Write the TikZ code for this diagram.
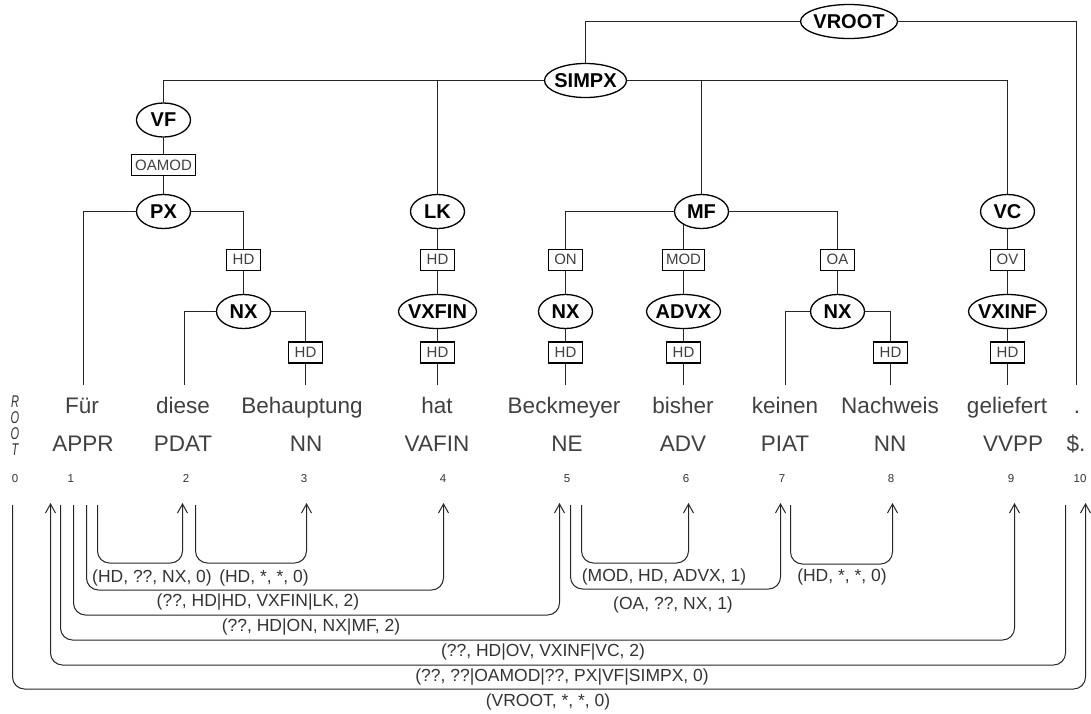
\documentclass[tikz,border=0pt]{standalone}
\usepackage{fontspec}
\setmainfont{Liberation Sans}
\usetikzlibrary{shapes.geometric,arrows.meta,backgrounds}
\tikzset{
  cat/.style={draw, ellipse, line width=1.3pt, fill=white, inner sep=0pt,
    minimum height=34pt, minimum width=#1, font=\fontsize{20}{20}\selectfont\bfseries},
  cat/.default=54pt,
  fn/.style={draw, rectangle, line width=1.1pt, fill=white, inner xsep=3.5pt, inner ysep=0pt,
    minimum width=34pt, minimum height=21pt, font=\fontsize{15}{15}\selectfont, text=black!75},
  word/.style={anchor=base, font=\fontsize{22.5}{22.5}\selectfont, text=black!75, inner sep=0pt},
  idx/.style={anchor=base, font=\fontsize{11.5}{11.5}\selectfont, text=black!80, inner sep=0pt},
  rootl/.style={anchor=base, font=\fontsize{17}{17}\selectfont\itshape, text=black!80, inner sep=0pt},
  edge/.style={line width=1pt, black!85},
  dep/.style={line width=1pt, black!85, rounded corners=12pt, -{Straight Barb[length=9pt,width=10pt]}},
  lab/.style={font=\fontsize{17.5}{17.5}\selectfont, text=black!80, inner sep=0pt},
}
\begin{document}
\begin{tikzpicture}[x=1pt,y=-1pt]
\useasboundingbox (0,0) rectangle (1091,713);
% ---------- tree nodes ----------
\node[cat=97pt] (VROOT) at (849,21.5) {\makebox[0pt]{VROOT}};
\node[cat=82pt] (SIMPX) at (585.5,80.5) {\makebox[0pt]{SIMPX}};
\node[cat] (VF) at (163.5,120) {\makebox[0pt]{VF}};
\node[fn] (OAMOD) at (163.5,165) {OAMOD};
\node[cat] (PX) at (163.5,211.5) {\makebox[0pt]{PX}};
\node[fn] (HDa) at (243.5,259.7) {HD};
\node[cat] (NXa) at (243.5,311.5) {\makebox[0pt]{NX}};
\node[fn] (HDb) at (305.5,352.5) {HD};
\node[cat] (LK) at (437.5,211.5) {\makebox[0pt]{LK}};
\node[fn] (HDc) at (437.5,259.7) {HD};
\node[cat=78pt] (VXFIN) at (437.5,311.5) {\makebox[0pt]{VXFIN}};
\node[fn] (HDd) at (437.5,352.5) {HD};
\node[cat] (MF) at (701.5,211.5) {\makebox[0pt]{MF}};
\node[fn] (ON) at (565.5,259.7) {ON};
\node[cat] (NXb) at (565.5,311.5) {\makebox[0pt]{NX}};
\node[fn] (HDe) at (565.5,352.5) {HD};
\node[fn] (MOD) at (683.5,259.7) {MOD};
\node[cat=74pt] (ADVX) at (683.5,311.5) {\makebox[0pt]{ADVX}};
\node[fn] (HDf) at (683.5,352.5) {HD};
\node[fn] (OA) at (837.5,259.7) {OA};
\node[cat] (NXc) at (837.5,311.5) {\makebox[0pt]{NX}};
\node[fn] (HDg) at (890.5,352.5) {HD};
\node[cat] (VC) at (1007.5,211.5) {\makebox[0pt]{VC}};
\node[fn] (OV) at (1007.5,259.7) {OV};
\node[cat=78pt] (VXINF) at (1007.5,311.5) {\makebox[0pt]{VXINF}};
\node[fn] (HDh) at (1007.5,352.5) {HD};
% line ends above the words
\coordinate (e1) at (83.5,385);
\coordinate (e2) at (184.5,385);
\coordinate (e3) at (305.5,385);
\coordinate (e4) at (437.5,385);
\coordinate (e5) at (565.5,385);
\coordinate (e6) at (683.5,385);
\coordinate (e7) at (785.5,385);
\coordinate (e8) at (890.5,385);
\coordinate (e9) at (1007.5,385);
\coordinate (e10) at (1076.5,385);
\begin{scope}[on background layer]
\draw[edge] (VROOT) -| (SIMPX);
\draw[edge] (VROOT) -| (e10);
\draw[edge] (SIMPX) -| (VF);
\draw[edge] (SIMPX) -| (LK);
\draw[edge] (SIMPX) -| (MF);
\draw[edge] (SIMPX) -| (VC);
\draw[edge] (VF) -- (OAMOD) -- (PX);
\draw[edge] (PX) -| (e1);
\draw[edge] (PX) -| (HDa);
\draw[edge] (HDa) -- (NXa);
\draw[edge] (NXa) -| (e2);
\draw[edge] (NXa) -| (HDb);
\draw[edge] (HDb) -- (e3);
\draw[edge] (LK) -- (HDc) -- (VXFIN) -- (HDd) -- (e4);
\draw[edge] (MF) -| (ON);
\draw[edge] (ON) -- (NXb) -- (HDe) -- (e5);
\draw[edge] (MOD |- MF) -- (MOD) -- (ADVX) -- (HDf) -- (e6);
\draw[edge] (MF) -| (OA);
\draw[edge] (OA) -- (NXc);
\draw[edge] (NXc) -| (e7);
\draw[edge] (NXc) -| (HDg);
\draw[edge] (HDg) -- (e8);
\draw[edge] (VC) -- (OV) -- (VXINF) -- (HDh) -- (e9);
\end{scope}
% ---------- words ----------
\node[rootl] (rootR) at (15,407) {\scalebox{0.65}[1]{R}};
\node[rootl] (rootO1) at (15,423) {\scalebox{0.65}[1]{O}};
\node[rootl] (rootO2) at (15,439) {\scalebox{0.65}[1]{O}};
\node[rootl] (rootT) at (15,455) {\scalebox{0.65}[1]{T}};
\node[word] (w1) at (82,413) {Für};
\node[word] (w2) at (183,413) {diese};
\node[word] (w3) at (302,413) {Behauptung};
\node[word] (w4) at (437,413) {hat};
\node[word] (w5) at (564,413) {Beckmeyer};
\node[word] (w6) at (683,413) {bisher};
\node[word] (w7) at (785,413) {keinen};
\node[word] (w8) at (890,413) {Nachweis};
\node[word] (w9) at (1007,413) {geliefert};
\node[word] (w10) at (1077,413) {.};
\node[word] (p1) at (83,451) {APPR};
\node[word] (p2) at (183,451) {PDAT};
\node[word] (p3) at (306,451) {NN};
\node[word] (p4) at (437,451) {VAFIN};
\node[word] (p5) at (567,451) {NE};
\node[word] (p6) at (683,451) {ADV};
\node[word] (p7) at (785,451) {PIAT};
\node[word] (p8) at (890,451) {NN};
\node[word] (p9) at (1013,451) {VVPP};
\node[word] (p10) at (1076,451) {\$.};
\node[idx] (n0) at (15,482) {0};
\node[idx] (n1) at (70.7,482) {1};
\node[idx] (n2) at (186,482) {2};
\node[idx] (n3) at (304,482) {3};
\node[idx] (n4) at (443,482) {4};
\node[idx] (n5) at (567,482) {5};
\node[idx] (n6) at (686,482) {6};
\node[idx] (n7) at (782,482) {7};
\node[idx] (n8) at (891,482) {8};
\node[idx] (n9) at (1011,482) {9};
\node[idx] (n10) at (1080,482) {10};
% ---------- dependency arcs ----------
\coordinate (s0) at (12.5,505);
\coordinate (s1a) at (60.5,505);
\coordinate (s1b) at (73.5,505);
\coordinate (s1c) at (86.5,505);
\coordinate (s1d) at (97.5,505);
\coordinate (s2) at (195.5,505);
\coordinate (s5a) at (570.5,505);
\coordinate (s5b) at (581.5,505);
\coordinate (s7) at (790.5,505);
\coordinate (s10) at (1065.5,505);
\coordinate (t1) at (50.5,503);
\coordinate (t2) at (182.5,503);
\coordinate (t3) at (306.5,503);
\coordinate (t4) at (443.5,503);
\coordinate (t5) at (559.5,503);
\coordinate (t6) at (688.5,503);
\coordinate (t7) at (780.5,503);
\coordinate (t8) at (892.5,503);
\coordinate (t9) at (1014.5,503);
\coordinate (t10) at (1085.5,503);
\draw[dep] (s1d) -- ++(0,58) -| (t2);
\draw[dep] (s2) -- ++(0,58) -| (t3);
\draw[dep] (s5b) -- ++(0,58) -| (t6);
\draw[dep] (s7) -- ++(0,59) -| (t8);
\draw[dep] (s1c) -- ++(0,85) -| (t4);
\draw[dep] (s5a) -- ++(0,84) -| (t7);
\draw[dep] (s1b) -- ++(0,110) -| (t5);
\draw[dep] (s1a) -- ++(0,135) -| (t9);
\draw[dep] (s10) -- ++(0,160) -| (t1);
\draw[dep] (s0) -- ++(0,184) -| (t10);
\node[lab] (l1) at (152,578) {(HD, ??, NX, 0)};
\node[lab] (l2) at (264,578) {(HD, *, *, 0)};
\node[lab] (l3) at (664,577) {(MOD, HD, ADVX, 1)};
\node[lab] (l4) at (842,577) {(HD, *, *, 0)};
\node[lab] (l5) at (258,602) {(??, HD|HD, VXFIN|LK, 2)};
\node[lab] (l6) at (673,605) {(OA, ??, NX, 1)};
\node[lab] (l7) at (311,627) {(??, HD|ON, NX|MF, 2)};
\node[lab] (l8) at (543,652) {(??, HD|OV, VXINF|VC, 2)};
\node[lab] (l9) at (562,677) {(??, ??|OAMOD|??, PX|VF|SIMPX, 0)};
\node[lab] (l10) at (548,702) {(VROOT, *, *, 0)};
\end{tikzpicture}
\end{document}
